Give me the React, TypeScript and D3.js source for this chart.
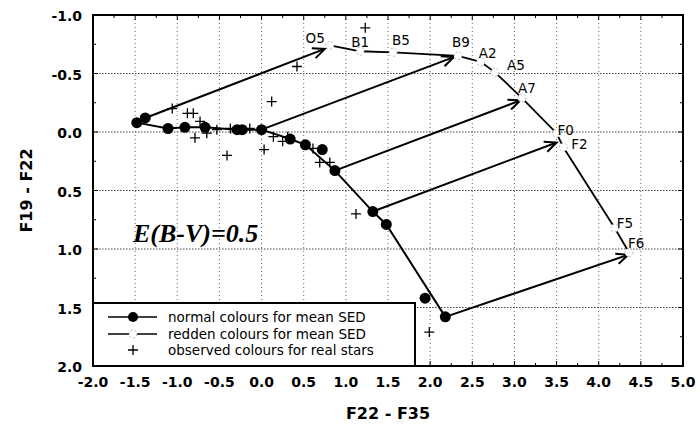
import React from 'react';
import * as d3 from 'd3';

// normal colours for mean SED (joined by the line)
const normalX = [-1.48, -1.11, -0.91, -0.67, -0.29, -0.23, 0.0, 0.34, 0.52, 0.87, 1.32, 1.48, 2.18];
const normalY = [-0.08, -0.03, -0.04, -0.04, -0.02, -0.02, -0.02, 0.06, 0.11, 0.33, 0.68, 0.79, 1.58];
// extra filled points off the line
const extraX = [-1.38, 0.72, 1.94];
const extraY = [-0.12, 0.15, 1.42];

// redden colours for mean SED
const reddenTypes = ['O5', 'B1', 'B5', 'B9', 'A2', 'A5', 'A7', 'F0', 'F2', 'F5', 'F6'];
const reddenX = [0.81, 1.17, 1.56, 2.33, 2.6, 2.77, 3.09, 3.5, 3.58, 4.19, 4.36];
const reddenY = [-0.74, -0.69, -0.68, -0.65, -0.6, -0.51, -0.29, 0.01, 0.13, 0.82, 1.03];

// observed colours for real stars
const obsX = [1.23, 0.42, 0.12, -1.06, -0.88, -0.81, -0.73, -0.79, -0.65, -0.53, -0.37, -0.41, -0.14, 0.03, 0.14, 0.25, 0.31, 0.61, 0.69, 0.81, 1.12, 1.99];
const obsY = [-0.89, -0.56, -0.26, -0.2, -0.16, -0.16, -0.09, 0.05, 0.01, -0.02, -0.03, 0.2, -0.03, 0.15, 0.04, 0.08, 0.04, 0.14, 0.26, 0.26, 0.7, 1.71];

// reddening arrows
const arrowX0 = [-1.38, 0.0, 0.87, 1.32, 2.18];
const arrowY0 = [-0.12, -0.02, 0.33, 0.68, 1.58];
const arrowX1 = [0.75, 2.28, 3.07, 3.5, 4.35];
const arrowY1 = [-0.71, -0.64, -0.27, 0.09, 1.05];

const xTicks = [-2.0, -1.5, -1.0, -0.5, 0.0, 0.5, 1.0, 1.5, 2.0, 2.5, 3.0, 3.5, 4.0, 4.5, 5.0];
const yTicks = [-1.0, -0.5, 0.0, 0.5, 1.0, 1.5, 2.0];

const legendItems = ['normal colours for mean SED', 'redden colours for mean SED', 'observed colours for real stars'];

// label placement (px offset from the point), layout only
const labelDx = [-5, 0, -1, -6, -2, 12, -4, 1, 8, 2, -1];
const labelDy = [-2, -4, -7, -9, -4, -2, -5, 2, 2, 0, -5];

const W = 700;
const H = 426;
const left = 93, right = 683, top = 15, bottom = 366;
const font = 'DejaVu Sans, sans-serif';

export default function App() {
  const x = d3.scaleLinear().domain([-2, 5]).range([left, right]);
  const y = d3.scaleLinear().domain([-1, 2]).range([top, bottom]);

  const normal = normalX.map((v, i) => [v, normalY[i]] as [number, number]);
  const redden = reddenX.map((v, i) => [v, reddenY[i]] as [number, number]);
  const line = d3.line<[number, number]>().x(d => x(d[0])).y(d => y(d[1]));

  const minorX = d3.range(-2, 5.001, 0.25);
  const minorY = d3.range(-1, 2.001, 0.25);
  const isMajor = (v: number) => Math.abs(v * 2 - Math.round(v * 2)) < 1e-6;

  const cross = (cx: number, cy: number, s: number, key: string) => (
    <path key={key} d={`M${cx - s},${cy}H${cx + s}M${cx},${cy - s}V${cy + s}`} stroke="#000" strokeWidth={1.3} fill="none" />
  );

  const arrowHead = (x0: number, y0: number, x1: number, y1: number) => {
    const a = Math.atan2(y1 - y0, x1 - x0);
    const len = 13, spread = 0.42;
    const p1 = [x1 - len * Math.cos(a - spread), y1 - len * Math.sin(a - spread)];
    const p2 = [x1 - len * Math.cos(a + spread), y1 - len * Math.sin(a + spread)];
    return `M${p1[0]},${p1[1]}L${x1},${y1}L${p2[0]},${p2[1]}`;
  };

  const legX = left, legY = 303, legW = 322, legH = bottom - 303;
  const rowY = [317, 334, 350];

  return (
    <svg width={W} height={H} style={{ position: 'absolute', left: 0, top: 0, background: '#fff' }}>
      {/* grid */}
      {xTicks.slice(1, -1).map(t => (
        <line key={'gx' + t} x1={x(t)} x2={x(t)} y1={top} y2={bottom} stroke="#666" strokeWidth={1} strokeDasharray="1,3" />
      ))}
      {yTicks.slice(1, -1).map(t => (
        <line key={'gy' + t} x1={left} x2={right} y1={y(t)} y2={y(t)} stroke="#444" strokeWidth={1} strokeDasharray="1.5,1.5" />
      ))}

      {/* ticks on all sides */}
      {minorX.map(t => {
        const l = isMajor(t) ? 5 : 3;
        return (
          <g key={'tx' + t}>
            <line x1={x(t)} x2={x(t)} y1={bottom} y2={bottom - l} stroke="#000" />
            <line x1={x(t)} x2={x(t)} y1={top} y2={top + l} stroke="#000" />
          </g>
        );
      })}
      {minorY.map(t => {
        const l = isMajor(t) ? 5 : 3;
        return (
          <g key={'ty' + t}>
            <line x1={left} x2={left + l} y1={y(t)} y2={y(t)} stroke="#000" />
            <line x1={right} x2={right - l} y1={y(t)} y2={y(t)} stroke="#000" />
          </g>
        );
      })}

      {/* arrows */}
      {arrowX0.map((v, i) => {
        const x0 = x(v), y0 = y(arrowY0[i]), x1 = x(arrowX1[i]), y1 = y(arrowY1[i]);
        return (
          <g key={'ar' + i}>
            <line x1={x0} y1={y0} x2={x1} y2={y1} stroke="#000" strokeWidth={2} />
            <path d={arrowHead(x0, y0, x1, y1)} stroke="#000" strokeWidth={2} fill="none" />
          </g>
        );
      })}

      {/* reddened sequence */}
      <path d={line(redden) || ''} stroke="#000" strokeWidth={1.8} fill="none" />
      {redden.map((d, i) => (
        <circle key={'rc' + i} cx={x(d[0])} cy={y(d[1])} r={4} fill="#fff" stroke="#888" strokeWidth={0.6} strokeDasharray="2,2" />
      ))}
      {redden.map((d, i) => (
        <text key={'rl' + i} x={x(d[0]) + labelDx[i]} y={y(d[1]) + labelDy[i]}
          textAnchor={i === 0 ? 'end' : i === 1 ? 'middle' : 'start'}
          fontFamily={font} fontSize={13.5} fill="#000">{reddenTypes[i]}</text>
      ))}

      {/* normal sequence */}
      <path d={line(normal) || ''} stroke="#000" strokeWidth={2} fill="none" />
      {normal.map((d, i) => (
        <circle key={'nc' + i} cx={x(d[0])} cy={y(d[1])} r={5.5} fill="#000" />
      ))}
      {extraX.map((v, i) => (
        <circle key={'ec' + i} cx={x(v)} cy={y(extraY[i])} r={5.5} fill="#000" />
      ))}

      {/* observed */}
      {obsX.map((v, i) => cross(x(v), y(obsY[i]), 5, 'ob' + i))}

      {/* E(B-V) */}
      <text x={133} y={242} fontFamily="Liberation Serif, serif" fontWeight="bold" fontStyle="italic" fontSize={26}>E(B-V)=0.5</text>

      {/* legend */}
      <rect x={legX} y={legY} width={legW} height={legH} fill="#fff" stroke="#000" strokeWidth={2} />
      <line x1={108} x2={157} y1={rowY[0]} y2={rowY[0]} stroke="#000" strokeWidth={1.5} />
      <circle cx={133} cy={rowY[0]} r={5} fill="#000" />
      <line x1={108} x2={157} y1={rowY[1]} y2={rowY[1]} stroke="#000" strokeWidth={1.5} />
      <circle cx={133} cy={rowY[1]} r={4} fill="#fff" stroke="#888" strokeWidth={0.6} strokeDasharray="2,2" />
      {cross(133, rowY[2], 5, 'legcross')}
      {legendItems.map((t, i) => (
        <text key={'lt' + i} x={168} y={rowY[i] + 4.5} fontFamily={font} fontSize={13.5}>{t}</text>
      ))}

      {/* frame */}
      <rect x={left} y={top} width={right - left} height={bottom - top} fill="none" stroke="#000" strokeWidth={2} />

      {/* tick labels */}
      {xTicks.map(t => (
        <text key={'xl' + t} x={x(t)} y={bottom + 21} textAnchor="middle" fontFamily={font} fontWeight="bold" fontSize={14}>{t.toFixed(1)}</text>
      ))}
      {yTicks.map(t => (
        <text key={'yl' + t} x={left - 11} y={y(t) + 6} textAnchor="end" fontFamily={font} fontWeight="bold" fontSize={14}>{t.toFixed(1)}</text>
      ))}

      {/* axis titles */}
      <text x={(left + right) / 2} y={419} textAnchor="middle" fontFamily={font} fontWeight="bold" fontSize={16}>F22 - F35</text>
      <text transform={`translate(32,${(top + bottom) / 2}) rotate(-90)`} textAnchor="middle" fontFamily={font} fontWeight="bold" fontSize={16}>F19 - F22</text>
    </svg>
  );
}
